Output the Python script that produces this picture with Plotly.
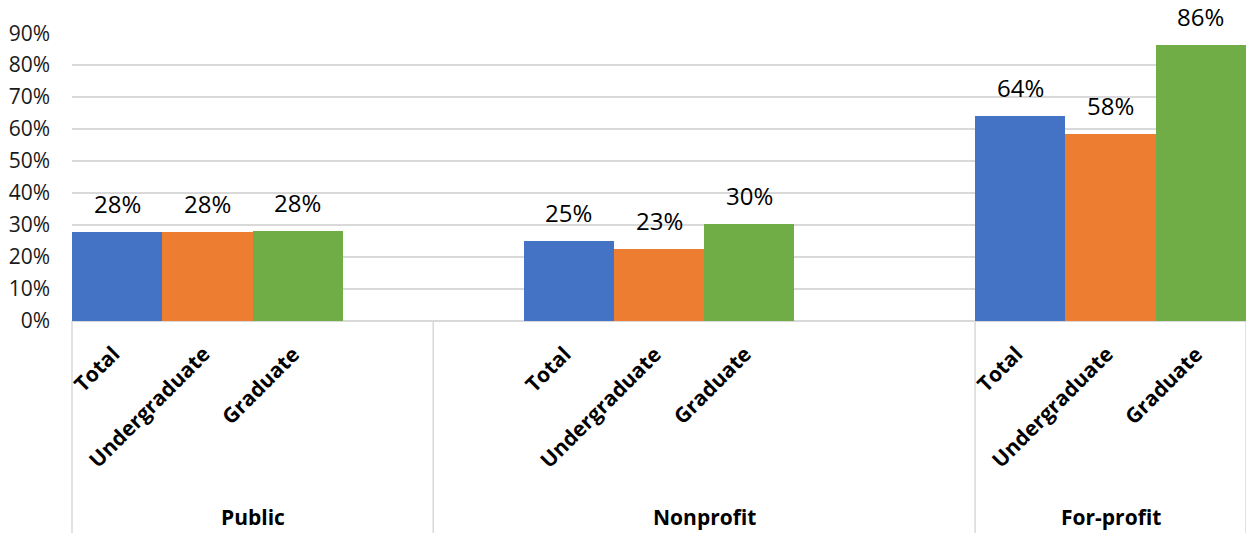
import plotly.graph_objects as go

# Share of students by sector and level
sectors = ["Public", "Nonprofit", "For-profit"]
levels = ["Total", "Undergraduate", "Graduate"]
total_vals = [0.279, 0.251, 0.640]
undergrad_vals = [0.278, 0.226, 0.584]
graduate_vals = [0.282, 0.303, 0.862]
y_ticks = [0.0, 0.1, 0.2, 0.3, 0.4, 0.5, 0.6, 0.7, 0.8, 0.9]

series = [total_vals, undergrad_vals, graduate_vals]
colors = ["#4472C4", "#ED7D31", "#70AD47"]

# Category slot layout: each sector occupies a span of unit-wide slots,
# bars start at a given slot within that span.
group_first_slot = [0, 5, 10]
group_bounds = [(-0.5, 3.5), (3.5, 9.5), (9.5, 12.5)]
x_min, x_max = -0.5, 12.5

W, H = 1246, 533
M_L, M_R, M_T, M_B = 72, 0, 33, 212
plot_h = H - M_T - M_B

FONT = "Open Sans"

fig = go.Figure()
for li, (lvl, vals, col) in enumerate(zip(levels, series, colors)):
    xs = [g + li for g in group_first_slot]
    fig.add_trace(go.Bar(
        x=xs, y=vals, width=1, name=lvl,
        marker=dict(color=col, line=dict(width=0)),
        showlegend=False, hoverinfo="skip",
    ))

annotations = []
# value labels above bars
for li, vals in enumerate(series):
    for gi, v in enumerate(vals):
        annotations.append(dict(
            x=group_first_slot[gi] + li, y=v, xref="x", yref="y",
            text=f"{round(v * 100):.0f}%", showarrow=False,
            xanchor="center", yanchor="bottom", yshift=11, borderpad=0,
            font=dict(family=FONT, size=24, color="#000000"),
        ))

# rotated level labels under each bar
def py(px):
    return (H - M_B - px) / plot_h

for gi in range(len(sectors)):
    for li, lvl in enumerate(levels):
        annotations.append(dict(
            x=group_first_slot[gi] + li + 0.1, y=py(339), xref="x", yref="paper",
            text=f"<b>{lvl}</b>", showarrow=False, textangle=-45,
            xanchor="right", yanchor="top", borderpad=0,
            font=dict(family=FONT, size=21, color="#000000"),
        ))

# sector labels and divider lines
shapes = []
def paper_x(v):
    return (v - x_min) / (x_max - x_min)

for (a, b), name in zip(group_bounds, sectors):
    annotations.append(dict(
        x=paper_x((a + b) / 2), y=py(517), xref="paper", yref="paper",
        text=f"<b>{name}</b>", showarrow=False,
        xanchor="center", yanchor="middle",
        font=dict(family=FONT, size=21, color="#000000"),
    ))

edges = sorted({v for ab in group_bounds for v in ab})
for e in edges:
    shapes.append(dict(
        type="line", xref="paper", yref="paper",
        x0=paper_x(e), x1=paper_x(e), y0=0, y1=py(H),
        line=dict(color="#d9d9d9", width=1.5),
    ))

fig.update_layout(
    width=W, height=H,
    margin=dict(l=M_L, r=M_R, t=M_T, b=M_B, pad=0),
    paper_bgcolor="white", plot_bgcolor="white",
    bargap=0, barmode="overlay",
    annotations=annotations, shapes=shapes,
    font=dict(family=FONT, color="#1a1a1a"),
    xaxis=dict(range=[x_min, x_max], showticklabels=False, showgrid=False,
               zeroline=False, showline=False, ticks=""),
    yaxis=dict(range=[0, 0.9005], tickvals=y_ticks, tickformat=".0%",
               showgrid=True, gridcolor="#d9d9d9", gridwidth=1.5,
               zeroline=True, zerolinecolor="#d9d9d9", zerolinewidth=1.5,
               showline=False, ticks="", ticklabelstandoff=21,
               tickfont=dict(family=FONT, size=21, color="#1a1a1a")),
)

fig.write_html("out.html")
